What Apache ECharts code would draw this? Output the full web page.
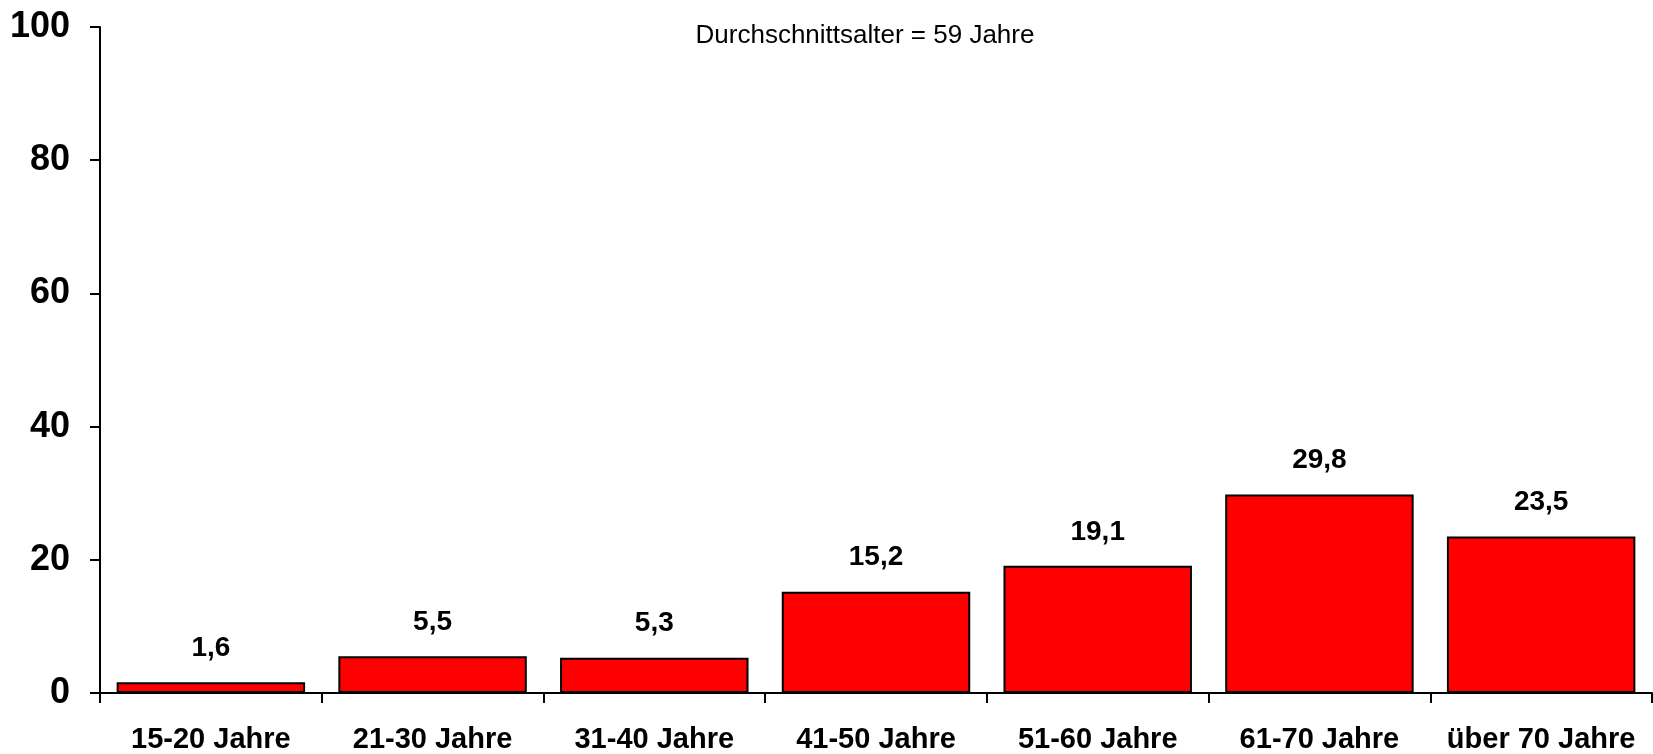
<!DOCTYPE html>
<html>
<head>
<meta charset="utf-8">
<script src="https://cdn.jsdelivr.net/npm/echarts@6/dist/echarts.min.js"></script>
<style>
  html, body { margin: 0; padding: 0; background: #fff; }
  #chart { width: 1653px; height: 754px; }
</style>
</head>
<body>
<div id="chart"></div>
<script>
// Altersgruppen und Anteile (%)
var categories = ['15-20 Jahre', '21-30 Jahre', '31-40 Jahre', '41-50 Jahre', '51-60 Jahre', '61-70 Jahre', 'über 70 Jahre']
var values = [1.6, 5.5, 5.3, 15.2, 19.1, 29.8, 23.5]
var yTicks = [0, 20, 40, 60, 80, 100]
var note = 'Durchschnittsalter = 59 Jahre'

var font = 'Arial, "Liberation Sans", sans-serif'
var chart = echarts.init(document.getElementById('chart'))

chart.setOption({
  animation: false,
  title: {
    text: note,
    left: 860,
    top: 18,
    textAlign: 'center',
    textStyle: { fontFamily: font, fontSize: 26, fontWeight: 'normal', color: '#000' }
  },
  grid: { left: 100, right: 1, top: 27, bottom: 59 },
  xAxis: {
    type: 'category',
    data: categories,
    axisLine: { lineStyle: { color: '#000', width: 2 } },
    axisTick: { show: true, length: 10, lineStyle: { color: '#000', width: 2 } },
    axisLabel: { margin: 32, color: '#000', fontFamily: font, fontSize: 29, fontWeight: 'bold', interval: 0 }
  },
  yAxis: {
    type: 'value',
    min: yTicks[0],
    max: yTicks[yTicks.length - 1],
    interval: 20,
    splitLine: { show: false },
    axisLine: { show: true, lineStyle: { color: '#000', width: 2 } },
    axisTick: { show: true, length: 10, lineStyle: { color: '#000', width: 2 } },
    axisLabel: { margin: 30, color: '#000', fontFamily: font, fontSize: 36, fontWeight: 'bold' }
  },
  series: [{
    type: 'bar',
    data: values,
    barCategoryGap: '15%',
    itemStyle: { color: '#ff0000', borderColor: '#000', borderWidth: 2 },
    label: {
      show: true,
      position: 'top',
      distance: 20,
      color: '#000',
      fontFamily: font,
      fontSize: 28,
      fontWeight: 'bold',
      formatter: function (p) { return String(p.value).replace('.', ',') }
    }
  }]
})
</script>
</body>
</html>
